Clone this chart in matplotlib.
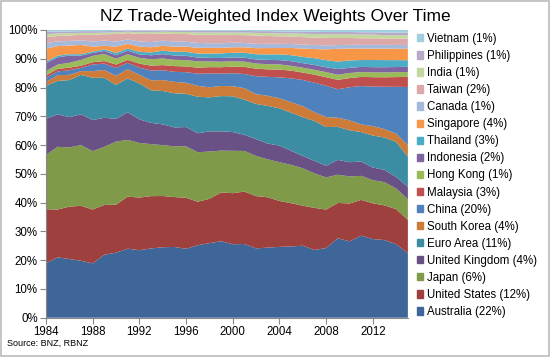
import matplotlib
matplotlib.use("Agg")
import matplotlib.pyplot as plt
import matplotlib.patches as mpatches
import numpy as np

plt.rcParams["font.family"] = ["Liberation Sans", "DejaVu Sans"]

# anos da série (anual)
years = list(range(1984, 2016))

# pesos (%), de baixo para cima
australia = [18.9, 21.0, 20.4, 19.8, 18.9, 21.9, 22.6, 24.0, 23.5, 24.1, 24.5, 24.7, 24.0, 25.2, 25.9, 26.5,
             25.5, 25.6, 24.0, 24.4, 24.7, 24.9, 25.2, 23.8, 24.5, 27.9, 26.8, 28.7, 27.5, 27.1, 25.6, 22.4]
united_states = [18.8, 16.6, 18.2, 19.1, 18.7, 17.3, 16.7, 18.1, 18.3, 18.2, 17.8, 17.4, 17.8, 15.1, 15.4, 16.9,
                 17.7, 18.2, 18.1, 17.5, 16.0, 15.1, 14.0, 14.8, 13.5, 12.4, 13.3, 12.5, 12.5, 12.1, 12.2, 11.6]
japan = [18.9, 21.8, 20.6, 21.1, 20.3, 20.2, 21.9, 19.7, 19.0, 18.1, 17.7, 17.7, 17.9, 17.2, 16.4, 14.5,
         14.7, 14.1, 13.9, 13.2, 13.5, 13.4, 13.1, 12.1, 11.3, 9.9, 9.5, 8.4, 8.1, 8.1, 7.2, 7.2]
united_kingdom = [12.5, 11.3, 10.5, 10.7, 10.8, 10.1, 7.9, 9.6, 8.2, 7.4, 7.2, 6.6, 6.7, 6.6, 7.0, 6.7,
                  6.5, 5.6, 5.8, 5.5, 5.8, 4.9, 4.3, 4.4, 4.1, 5.2, 5.0, 5.0, 4.4, 4.3, 4.0, 4.3]
euro_area = [11.5, 11.6, 12.9, 13.7, 14.7, 13.9, 11.8, 11.8, 12.5, 11.3, 11.6, 11.9, 11.6, 12.7, 11.8, 12.2,
             12.4, 12.2, 12.2, 13.1, 13.0, 13.3, 13.6, 14.0, 13.6, 11.6, 11.2, 10.3, 11.2, 11.3, 12.2, 10.5]
south_korea = [1.3, 2.0, 1.8, 1.3, 2.3, 2.7, 3.2, 3.2, 3.0, 3.5, 3.8, 4.0, 3.8, 3.8, 3.5, 3.5,
               3.5, 4.0, 3.4, 3.5, 3.5, 3.7, 3.8, 3.1, 3.5, 3.2, 3.5, 2.7, 3.3, 2.9, 2.9, 4.0]
china = [1.4, 1.3, 1.6, 1.1, 2.3, 2.2, 2.7, 2.2, 2.5, 3.4, 3.4, 3.5, 3.7, 4.2, 4.8, 4.3,
         4.5, 4.9, 6.2, 6.6, 7.3, 8.3, 9.2, 10.4, 11.0, 10.0, 11.6, 13.4, 13.8, 14.8, 16.3, 20.2]
malaysia = [0.9, 0.9, 0.9, 0.8, 0.8, 0.9, 1.2, 1.0, 1.4, 1.7, 1.8, 2.0, 2.0, 2.1, 2.2, 2.2,
            2.3, 2.5, 2.6, 2.6, 2.7, 2.7, 2.6, 2.8, 3.0, 3.3, 3.2, 3.2, 3.3, 3.3, 3.4, 3.5]
hong_kong = [1.5, 1.5, 1.7, 2.0, 2.2, 2.5, 2.0, 2.0, 2.0, 2.2, 2.3, 2.2, 2.2, 2.2, 2.0, 1.9,
             1.9, 1.8, 1.8, 1.8, 1.8, 1.7, 1.7, 1.7, 1.8, 1.8, 1.8, 1.7, 1.7, 1.7, 1.7, 1.7]
indonesia = [2.8, 2.5, 2.5, 1.5, 1.0, 1.0, 1.2, 1.2, 1.2, 1.4, 1.5, 1.5, 1.5, 1.3, 1.2, 1.3,
             1.3, 1.4, 1.4, 1.5, 1.5, 1.6, 1.6, 1.7, 1.7, 2.0, 1.8, 1.8, 1.8, 1.8, 1.8, 1.8]
thailand = [0.5, 0.6, 0.5, 0.5, 0.5, 0.6, 0.8, 0.8, 0.9, 1.0, 1.2, 1.3, 1.4, 1.4, 1.5, 1.6,
            1.6, 1.7, 1.8, 1.9, 2.0, 2.1, 2.2, 2.4, 2.5, 2.6, 2.6, 2.4, 2.5, 2.5, 2.4, 2.3]
singapore = [4.5, 3.3, 3.0, 3.2, 1.7, 1.2, 2.2, 1.6, 1.8, 1.8, 1.7, 1.8, 1.8, 2.0, 2.0, 1.9,
             1.9, 1.9, 2.1, 2.2, 2.2, 2.5, 2.9, 3.2, 3.8, 4.5, 4.2, 4.0, 4.0, 4.0, 4.0, 4.0]
canada = [2.0, 1.6, 1.6, 1.6, 1.8, 1.8, 1.8, 1.5, 1.8, 1.8, 1.8, 1.8, 1.7, 1.7, 1.6, 1.6,
          1.6, 1.5, 1.5, 1.5, 1.5, 1.4, 1.4, 1.4, 1.4, 1.3, 1.3, 1.3, 1.3, 1.3, 1.3, 1.3]
taiwan = [2.0, 1.9, 1.9, 1.9, 2.3, 2.2, 2.6, 2.2, 2.6, 2.8, 2.5, 2.6, 2.7, 2.8, 2.9, 2.9,
          2.7, 2.7, 2.9, 2.7, 2.6, 2.6, 2.6, 2.6, 2.6, 2.5, 2.4, 2.3, 2.3, 2.2, 2.2, 2.2]
india = [1.0, 0.9, 0.8, 0.7, 0.7, 0.6, 0.6, 0.5, 0.6, 0.6, 0.6, 0.7, 0.7, 0.8, 0.8, 0.8,
         0.8, 0.9, 0.9, 1.0, 1.0, 1.1, 1.2, 1.3, 1.3, 1.3, 1.3, 1.3, 1.3, 1.2, 1.2, 1.2]
philippines = [0.8, 0.7, 0.6, 0.6, 0.6, 0.5, 0.5, 0.5, 0.5, 0.5, 0.5, 0.5, 0.5, 0.6, 0.6, 0.6,
               0.6, 0.6, 0.6, 0.7, 0.7, 0.7, 0.7, 0.8, 0.8, 0.8, 0.8, 0.8, 0.8, 0.9, 0.9, 0.9]
vietnam = [0.7, 0.5, 0.5, 0.4, 0.4, 0.4, 0.3, 0.1, 0.3, 0.3, 0.1, 0.2, 0.2, 0.3, 0.3, 0.3,
           0.3, 0.3, 0.4, 0.4, 0.5, 0.5, 0.6, 0.6, 0.7, 0.7, 0.7, 0.8, 0.8, 0.9, 0.9, 0.9]

labels = ["Australia (22%)", "United States (12%)", "Japan (6%)", "United Kingdom (4%)",
          "Euro Area (11%)", "South Korea (4%)", "China (20%)", "Malaysia (3%)",
          "Hong Kong (1%)", "Indonesia (2%)", "Thailand (3%)", "Singapore (4%)",
          "Canada (1%)", "Taiwan (2%)", "India (1%)", "Philippines (1%)", "Vietnam (1%)"]

series = [australia, united_states, japan, united_kingdom, euro_area, south_korea, china,
          malaysia, hong_kong, indonesia, thailand, singapore, canada, taiwan, india,
          philippines, vietnam]

colors = ["#3F6698", "#9E413E", "#7F9A48", "#695185", "#3C8DA3", "#CC7B38",
          "#4F81BD", "#C0504D", "#9BBB59", "#8064A2", "#4BACC6", "#F79646",
          "#A7B9DA", "#DDA9A8", "#C4D79F", "#B6A9C9", "#A0CFDF"]

# 100% empilhado
dados = np.array(series, dtype=float)
dados = dados / dados.sum(axis=0) * 100

fig = plt.figure(figsize=(5.5, 3.57), dpi=100)
ax = fig.add_axes([0.0836, 0.110, 0.658, 0.806])

ax.stackplot(years, dados, colors=colors, linewidth=0)

ax.set_xlim(1984, 2015)
ax.set_ylim(0, 100)
ax.set_yticks(range(0, 101, 10))
ax.set_yticklabels([f"{v}%" for v in range(0, 101, 10)], fontsize=8.3)
ax.set_xticks(range(1984, 2015, 4))
ax.set_xticklabels([str(a) for a in range(1984, 2015, 4)], fontsize=8.3)
ax.tick_params(direction="out", length=4, width=0.8, color="#888888", pad=2)

for lado in ["top", "right"]:
    ax.spines[lado].set_visible(False)
for lado in ["left", "bottom"]:
    ax.spines[lado].set_color("#888888")
    ax.spines[lado].set_linewidth(0.8)

fig.text(0.5, 0.955, "NZ Trade-Weighted Index Weights Over Time", ha="center", va="center",
         fontsize=12.5)

handles = [mpatches.Patch(color=c, label=l) for c, l in zip(colors, labels)]
ax.legend(handles=handles[::-1], loc="upper left", bbox_to_anchor=(1.0, 1.02),
          frameon=False, fontsize=8.3, handlelength=0.6, handleheight=0.6,
          handletextpad=0.35, labelspacing=0.44, borderpad=0.25)

fig.text(0.013, 0.025, "Source: BNZ, RBNZ", fontsize=6.5, ha="left", va="bottom")

fig.patches.append(mpatches.Rectangle((0.001, 0.002), 0.997, 0.995, transform=fig.transFigure,
                                      fill=False, edgecolor="#BBBBBB", linewidth=1.2))

fig.savefig("out.png", dpi=100, facecolor="white")
